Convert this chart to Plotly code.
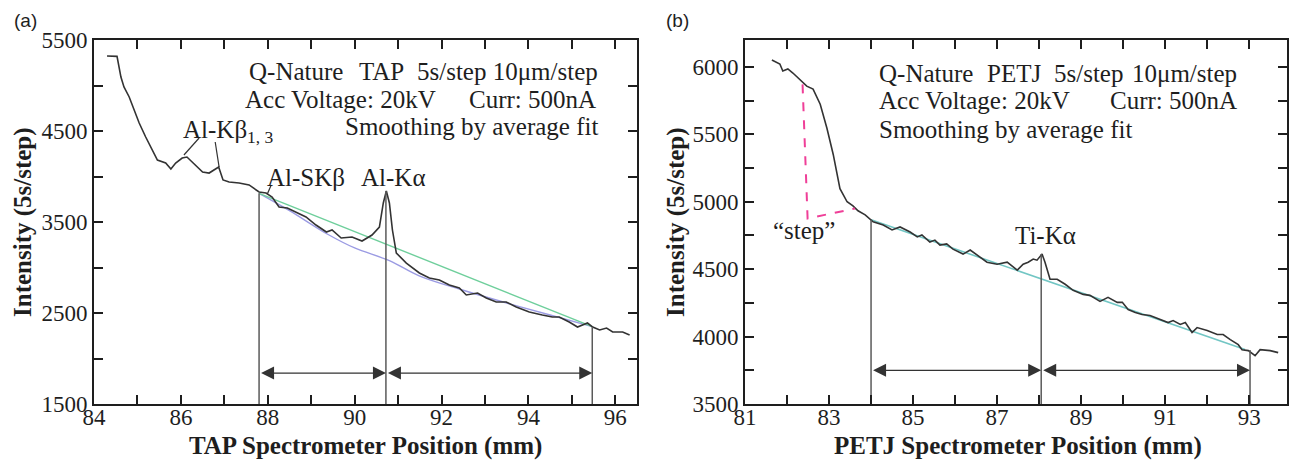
import plotly.graph_objects as go

# ---------------- data ----------------
# Panel (a): TAP spectrometer scan
tap_x = [84.30, 84.53, 84.62, 84.69, 84.81, 84.92, 85.04, 85.19, 85.34, 85.46, 85.65, 85.77, 85.88, 86.03,
         86.14, 86.34, 86.50, 86.65, 86.81, 86.87, 86.97, 87.11, 87.34, 87.57, 87.80, 87.96, 88.10, 88.26,
         88.45, 88.65, 88.88, 89.11, 89.35, 89.48, 89.69, 89.94, 90.17, 90.40, 90.57, 90.66, 90.73, 90.80,
         90.87, 90.96, 91.19, 91.49, 91.72, 91.95, 92.18, 92.41, 92.57, 92.83, 93.03, 93.26, 93.49, 93.72,
         94.02, 94.32, 94.55, 94.71, 94.94, 95.13, 95.36, 95.48, 95.64, 95.80, 95.94, 96.17, 96.33]
tap_y = [5324, 5320, 5093, 4984, 4874, 4730, 4588, 4434, 4291, 4181, 4148, 4082, 4148, 4203,
         4214, 4126, 4049, 4038, 4093, 4104, 3962, 3940, 3928, 3907, 3830, 3818, 3775, 3665,
         3654, 3610, 3555, 3467, 3390, 3412, 3324, 3335, 3291, 3357, 3445, 3709, 3841, 3709,
         3412, 3159, 3049, 2940, 2885, 2863, 2808, 2775, 2698, 2720, 2665, 2621, 2621, 2566,
         2511, 2478, 2456, 2456, 2401, 2346, 2390, 2346, 2313, 2335, 2291, 2291, 2258]
tap_linfit_x = [87.80, 95.47]
tap_linfit_y = [3815, 2350]
tap_bgfit_x = [87.80, 88.50, 89.40, 90.00, 90.80, 91.50, 92.50, 93.50, 94.50, 95.47]
tap_bgfit_y = [3815, 3625, 3360, 3215, 3075, 2905, 2750, 2610, 2478, 2350]
tap_marker_x = [87.80, 90.72, 95.47]
tap_marker_top = [3815, 3841, 2345]
tap_arrow_y = 1840
tap_kb_leader_x = [[86.42, 86.07], [86.79, 86.88]]
tap_kb_leader_y = [[4423, 4236], [4379, 4104]]
tap_skb_leader_x = [88.08, 87.99]
tap_skb_leader_y = [3907, 3808]
tap_xrange = [84, 96.5]
tap_yrange = [1500, 5500]
tap_xticks = list(range(84, 97))
tap_xticklabels = [str(v) if v % 2 == 0 else "" for v in tap_xticks]
tap_yticks = list(range(1500, 5501, 500))
tap_yticklabels = [str(v) if (v - 1500) % 1000 == 0 else "" for v in tap_yticks]

# Panel (b): PETJ spectrometer scan
petj_x = [81.64, 81.83, 81.90, 82.02, 82.14, 82.38, 82.47, 82.62, 82.79, 82.95, 83.10, 83.26, 83.43, 83.57,
          83.69, 83.86, 83.98, 84.05, 84.29, 84.50, 84.69, 84.93, 85.10, 85.21, 85.40, 85.52, 85.64, 85.80,
          85.95, 86.19, 86.36, 86.52, 86.76, 87.00, 87.24, 87.48, 87.62, 87.74, 87.86, 87.95, 88.07, 88.14,
          88.26, 88.43, 88.62, 88.81, 89.05, 89.21, 89.45, 89.64, 89.86, 89.98, 90.12, 90.29, 90.45, 90.64,
          90.88, 91.07, 91.19, 91.36, 91.48, 91.64, 91.76, 92.00, 92.24, 92.38, 92.55, 92.74, 92.83, 92.98,
          93.14, 93.26, 93.50, 93.69]
petj_y = [6052, 6022, 5970, 5985, 5955, 5881, 5858, 5836, 5724, 5545, 5351, 5097, 5000, 4970,
          4933, 4903, 4873, 4851, 4828, 4791, 4813, 4776, 4739, 4754, 4701, 4716, 4679, 4687,
          4649, 4612, 4642, 4604, 4552, 4537, 4552, 4493, 4537, 4552, 4575, 4567, 4612, 4552,
          4425, 4425, 4388, 4343, 4313, 4306, 4261, 4291, 4254, 4254, 4201, 4179, 4164, 4157,
          4127, 4104, 4119, 4090, 4104, 4030, 4067, 4045, 4015, 4015, 3978, 3940, 3903, 3896,
          3858, 3903, 3896, 3881]
petj_fit_x = [84.00, 92.90]
petj_fit_y = [4866, 3905]
petj_marker_x = [84.00, 88.05, 93.02]
petj_marker_top = [4866, 4612, 3900]
petj_arrow_y = 3750
petj_step_x = [82.37, 82.49, 83.62]
petj_step_y = [5871, 4876, 4950]
petj_xrange = [81, 93.9]
petj_yrange = [3500, 6200]
petj_xticks = list(range(81, 94))
petj_xticklabels = [str(v) if v % 2 == 1 else "" for v in petj_xticks]
petj_yticks = list(range(3500, 6201, 250))
petj_yticklabels = [str(v) if v % 500 == 0 else "" for v in petj_yticks]

# ---------------- styling ----------------
W, H = 1293, 464
SERIF = "Liberation Serif"
INK = "#1e1e1e"
CURVE = "#333333"
VLINE = "#5a5a5a"
FS = 25


def px(x):
    return x / W


def py(y):
    return (H - y) / H


ydom = [py(404), py(40)]
xdom_a = [px(94), px(637)]
xdom_b = [px(745), px(1287)]

fig = go.Figure()


def line(x, y, color, width, ax="x", ay="y", dash=None, shape="linear"):
    fig.add_trace(go.Scatter(x=x, y=y, mode="lines", xaxis=ax, yaxis=ay, showlegend=False,
                             hoverinfo="skip",
                             line=dict(color=color, width=width, dash=dash, shape=shape)))


# panel (a)
line(tap_bgfit_x, tap_bgfit_y, "#9b9be3", 1.4, shape="spline")
line(tap_linfit_x, tap_linfit_y, "#6fcf9c", 1.4)
line(tap_x, tap_y, CURVE, 1.6)
for xv, top in zip(tap_marker_x, tap_marker_top):
    line([xv, xv], [tap_yrange[0], top], VLINE, 1.5)
for lx, ly in zip(tap_kb_leader_x, tap_kb_leader_y):
    line(lx, ly, CURVE, 1.2)
line(tap_skb_leader_x, tap_skb_leader_y, CURVE, 1.2)

# panel (b)
line(petj_fit_x, petj_fit_y, "#72c6c4", 1.6, ax="x2", ay="y2")
line(petj_x, petj_y, CURVE, 1.6, ax="x2", ay="y2")
for xv, top in zip(petj_marker_x, petj_marker_top):
    line([xv, xv], [petj_yrange[0], top], VLINE, 1.5, ax="x2", ay="y2")
line(petj_step_x, petj_step_y, "#ef3f98", 2, ax="x2", ay="y2", dash="dash")


def axis(rng, tv, tt, dom, anchor, standoff=0):
    return dict(range=rng, domain=dom, anchor=anchor, tickmode="array", tickvals=tv, ticktext=tt,
                ticks="inside", ticklen=9, tickwidth=1.5, tickcolor=INK,
                showline=True, linecolor=INK, linewidth=2, mirror="ticks",
                showgrid=False, zeroline=False, automargin=False,
                ticklabelstandoff=standoff,
                tickfont=dict(family=SERIF, size=23, color=INK))


annotations = []


def text(t, x, y, xanchor="left", size=FS, family=SERIF, bold=False, angle=0):
    if bold:
        t = "<b>" + t + "</b>"
    annotations.append(dict(text=t, x=px(x), y=py(y), xref="paper", yref="paper",
                            xanchor=xanchor, yanchor="middle", showarrow=False, textangle=angle,
                            font=dict(family=family, size=size, color=INK)))


def darrow(x0, x1, y, xr, yr):
    annotations.append(dict(text=" ", x=x1, y=y, ax=x0, ay=y, xref=xr, yref=yr, axref=xr, ayref=yr,
                            showarrow=True, arrowhead=2, startarrowhead=2, arrowside="end+start",
                            arrowsize=2.0, arrowwidth=1.3, arrowcolor="#333333",
                            standoff=0, startstandoff=0, font=dict(size=2)))


# arrows
darrow(tap_marker_x[0], tap_marker_x[1], tap_arrow_y, "x", "y")
darrow(tap_marker_x[1], tap_marker_x[2], tap_arrow_y, "x", "y")
darrow(petj_marker_x[0], petj_marker_x[1], petj_arrow_y, "x2", "y2")
darrow(petj_marker_x[1], petj_marker_x[2], petj_arrow_y, "x2", "y2")

# panel labels
text("(a)", 12, 20, size=19, family="Liberation Sans")
text("(b)", 664, 20, size=19, family="Liberation Sans")

# info text (a)
text("Q-Nature", 247, 72)
text("TAP", 357, 72)
text("5s/step 10μm/step", 600, 72, xanchor="right")
text("Acc Voltage: 20kV", 243, 99)
text("Curr: 500nA", 598, 99, xanchor="right")
text("Smoothing by average fit", 600, 127, xanchor="right")
# info text (b)
text("Q-Nature", 877, 74)
text("PETJ", 985, 74)
text("5s/step", 1052, 74)
text("10μm/step", 1239, 74, xanchor="right")
text("Acc Voltage: 20kV", 877, 101)
text("Curr: 500nA", 1239, 101, xanchor="right")
text("Smoothing by average fit", 877, 129)

# peak labels
text("Al-Kβ<sub>1, 3</sub>", 181, 131)
text("Al-SKβ", 265, 177)
text("Al-Kα", 359, 177)
text("“step”", 771, 230)
text("Ti-Kα", 1013, 235)

# axis titles
text("Intensity (5s/step)", 23, 222, xanchor="center", bold=True, angle=-90)
text("Intensity (5s/step)", 676, 222, xanchor="center", bold=True, angle=-90)
text("TAP Spectrometer Position (mm)", 365, 446, xanchor="center", bold=True)
text("PETJ Spectrometer Position (mm)", 1018, 446, xanchor="center", bold=True)

fig.update_layout(
    width=W, height=H, margin=dict(l=0, r=0, t=0, b=0),
    paper_bgcolor="white", plot_bgcolor="white", showlegend=False,
    xaxis=axis(tap_xrange, tap_xticks, tap_xticklabels, xdom_a, "y", standoff=-9),
    yaxis=axis(tap_yrange, tap_yticks, tap_yticklabels, ydom, "x"),
    xaxis2=axis(petj_xrange, petj_xticks, petj_xticklabels, xdom_b, "y2", standoff=-9),
    yaxis2=axis(petj_yrange, petj_yticks, petj_yticklabels, ydom, "x2"),
    annotations=annotations,
)

fig.write_html("out.html")
